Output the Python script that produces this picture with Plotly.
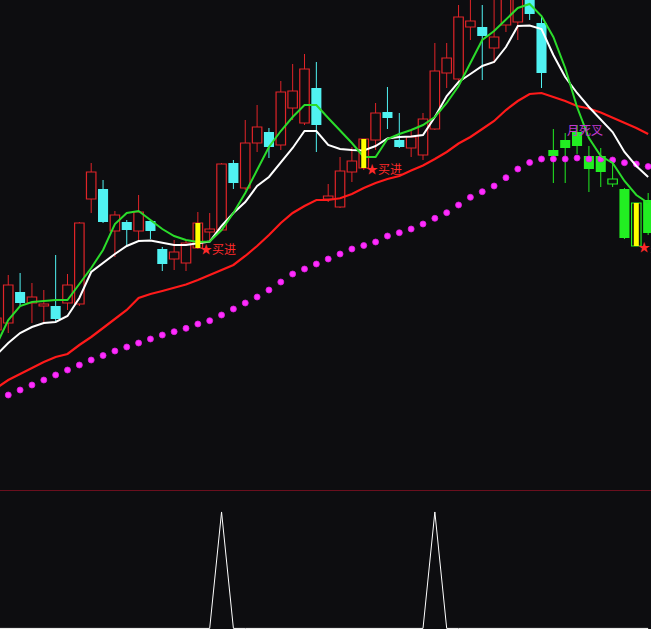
import plotly.graph_objects as go

# ---------------- data ----------------
bar_index = list(range(56))

open_ = [16.70, 16.77, 17.08, 16.97, 16.94, 16.94, 16.97, 16.96, 18.01, 18.11,
         17.69, 17.78, 17.69, 17.79, 17.51, 17.41, 17.37, 17.52, 17.68, 17.70,
         18.37, 18.12, 18.57, 18.68, 18.55, 18.92, 18.77, 19.12, 18.01, 17.93,
         18.28, 18.32, 18.60, 18.88, 18.60, 18.52, 18.45, 18.71, 19.27, 19.21,
         19.73, 19.73, 19.52, 19.75, 19.78, 20.10, 19.77, 18.50, 18.60, 18.68,
         18.44, 18.44, 18.16, 18.11, 17.54, 18.00]
high = [16.92, 17.25, 17.27, 17.17, 17.10, 17.45, 17.26, 17.78, 18.37, 18.20,
        17.89, 17.80, 18.05, 17.81, 17.53, 17.60, 17.60, 17.88, 17.87, 18.37,
        18.40, 18.80, 18.95, 18.72, 19.19, 19.36, 19.46, 19.38, 18.16, 18.43,
        18.53, 18.61, 18.97, 19.13, 18.87, 18.70, 18.87, 19.57, 19.57, 19.95,
        20.05, 19.95, 20.05, 20.20, 20.15, 20.20, 19.85, 18.71, 18.67, 18.75,
        18.54, 18.52, 18.38, 18.12, 17.97, 18.07]
low = [16.62, 16.67, 16.94, 16.77, 16.78, 16.79, 16.90, 16.94, 17.87, 17.77,
       17.43, 17.54, 17.60, 17.61, 17.29, 17.30, 17.29, 17.51, 17.60, 17.69,
       18.11, 18.10, 18.48, 18.42, 18.50, 18.80, 18.75, 18.48, 17.98, 17.92,
       18.18, 18.30, 18.50, 18.71, 18.52, 18.43, 18.40, 18.70, 19.12, 19.17,
       19.60, 19.20, 19.37, 19.68, 19.60, 19.80, 19.12, 18.17, 18.17, 18.46,
       18.08, 18.13, 18.13, 17.61, 17.54, 17.65]
close = [16.82, 17.15, 16.97, 17.03, 16.96, 16.81, 17.15, 17.77, 18.28, 17.78,
         17.85, 17.70, 17.88, 17.69, 17.36, 17.48, 17.57, 17.77, 17.71, 18.36,
         18.17, 18.57, 18.73, 18.53, 19.08, 19.09, 19.31, 18.75, 18.04, 18.29,
         18.39, 18.61, 18.87, 18.82, 18.53, 18.63, 18.81, 19.29, 19.42, 19.83,
         19.79, 19.64, 19.63, 20.08, 20.06, 19.86, 19.27, 18.44, 18.52, 18.54,
         18.31, 18.28, 18.21, 17.62, 17.97, 17.67]

ma5 = [16.55, 16.80, 16.94, 16.98, 16.99, 17.00, 17.00, 17.16, 17.32, 17.50,
       17.76, 17.87, 17.89, 17.80, 17.71, 17.64, 17.60, 17.58, 17.585, 17.70,
       17.87, 18.07, 18.30, 18.53, 18.69, 18.83, 18.95, 18.95, 18.82, 18.70,
       18.57, 18.43, 18.43, 18.61, 18.66, 18.70, 18.75, 18.83, 18.97, 19.14,
       19.37, 19.60, 19.69, 19.80, 19.92, 19.96, 19.84, 19.63, 19.32, 18.93,
       18.62, 18.44, 18.37, 18.19, 18.05, 17.97]
ma10 = [16.45, 16.57, 16.67, 16.73, 16.77, 16.78, 16.84, 17.02, 17.28, 17.37,
        17.46, 17.54, 17.59, 17.595, 17.57, 17.55, 17.55, 17.57, 17.585, 17.74,
        17.87, 17.98, 18.14, 18.23, 18.37, 18.52, 18.69, 18.69, 18.55, 18.51,
        18.50, 18.495, 18.54, 18.615, 18.63, 18.635, 18.65, 18.83, 19.04, 19.18,
        19.26, 19.34, 19.38, 19.53, 19.74, 19.745, 19.71, 19.45, 19.23, 19.07,
        18.93, 18.80, 18.68, 18.48, 18.34, 18.23]
ma30 = [16.12, 16.20, 16.26, 16.32, 16.38, 16.43, 16.46, 16.55, 16.63, 16.72,
        16.81, 16.90, 17.02, 17.06, 17.09, 17.12, 17.155, 17.20, 17.25, 17.30,
        17.35, 17.44, 17.54, 17.65, 17.77, 17.87, 17.94, 18.00, 18.00, 18.017,
        18.06, 18.12, 18.17, 18.21, 18.24, 18.295, 18.345, 18.41, 18.48, 18.565,
        18.63, 18.71, 18.79, 18.90, 18.99, 19.06, 19.07, 19.03, 18.99, 18.94,
        18.915, 18.875, 18.825, 18.775, 18.72, 18.66]
ma60 = [16.00, 16.05, 16.10, 16.15, 16.20, 16.25, 16.30, 16.35, 16.40, 16.445,
        16.49, 16.53, 16.57, 16.61, 16.65, 16.683, 16.717, 16.76, 16.793, 16.85,
        16.91, 16.97, 17.03, 17.10, 17.18, 17.26, 17.31, 17.36, 17.41, 17.46,
        17.51, 17.545, 17.58, 17.64, 17.673, 17.71, 17.76, 17.817, 17.873, 17.95,
        18.027, 18.083, 18.14, 18.223, 18.31, 18.375, 18.41, 18.41, 18.41, 18.42,
        18.41, 18.41, 18.40, 18.373, 18.36, 18.335]

signal = [0, 0, 0, 0, 0, 0, 0, 0, 0, 0,
          0, 0, 0, 0, 0, 0, 0, 0, 0, 1,
          0, 0, 0, 0, 0, 0, 0, 0, 0, 0,
          0, 0, 0, 0, 0, 0, 0, 1, 0, 0,
          0, 0, 0, 0, 0, 0, 0, 0, 0, 0,
          0, 0, 0, 0, 0, 0]

buy_bars = [17, 31, 54]
buy_text = "★买进"
weak_start = 47            # bars from here on are drawn in the green (weak) style
cross_bar = 48
cross_text = "月死叉"
cross_price = 18.71

# ---------------- styles ----------------
BG = "#0d0d10"
RED = "#e02428"
CYAN = "#50f2f2"
GREEN = "#22ee22"
YELLOW = "#ffff00"

fig = go.Figure()


def groups():
    g = {"red_up": [], "cyan_dn": [], "green_up": [], "green_dn": []}
    for i in bar_index:
        up = close[i] >= open_[i]
        if i < weak_start:
            g["red_up" if up else "cyan_dn"].append(i)
        else:
            g["green_up" if up else "green_dn"].append(i)
    return g


G = groups()
BODY_W = 0.85

for key, color, hollow in [("red_up", RED, True), ("cyan_dn", CYAN, False),
                           ("green_up", GREEN, True), ("green_dn", GREEN, False)]:
    ids = G[key]
    if not ids:
        continue
    base = [min(open_[i], close[i]) for i in ids]
    hgt = [max(abs(close[i] - open_[i]), 0.004) for i in ids]
    fig.add_trace(go.Bar(
        x=ids, y=hgt, base=base, width=BODY_W if not hollow else BODY_W - 0.05,
        marker=dict(color="rgba(0,0,0,0)" if hollow else color,
                    line=dict(color=color, width=1.2 if hollow else 0)),
        xaxis="x", yaxis="y", hoverinfo="skip", showlegend=False))

for key, color in [("red_up", RED), ("cyan_dn", CYAN), ("green_up", GREEN), ("green_dn", GREEN)]:
    xs, ys = [], []
    for i in G[key]:
        top = max(open_[i], close[i])
        bot = min(open_[i], close[i])
        xs += [i, i, None, i, i, None]
        ys += [high[i], top, None, bot, low[i], None]
    fig.add_trace(go.Scatter(x=xs, y=ys, mode="lines", line=dict(color=color, width=1),
                             xaxis="x", yaxis="y", hoverinfo="skip", showlegend=False))

# moving averages
fig.add_trace(go.Scatter(x=bar_index, y=ma30, mode="lines", line=dict(color="#ff1a1a", width=2.2),
                         hoverinfo="skip", showlegend=False))
fig.add_trace(go.Scatter(x=bar_index, y=ma60, mode="markers",
                         marker=dict(symbol="circle", size=6, color="#ff2cff",
                                     line=dict(color="#e020e0", width=0.8)),
                         hoverinfo="skip", showlegend=False))
fig.add_trace(go.Scatter(x=bar_index, y=ma10, mode="lines", line=dict(color="#ffffff", width=2),
                         hoverinfo="skip", showlegend=False))
fig.add_trace(go.Scatter(x=bar_index, y=ma5, mode="lines", line=dict(color="#2bdc2b", width=2),
                         hoverinfo="skip", showlegend=False))

# buy-signal yellow sticks (on top of lines)
xs, ys = [], []
for i in buy_bars:
    xs += [i, i, None]
    ys += [open_[i], close[i], None]
fig.add_trace(go.Scatter(x=xs, y=ys, mode="lines", line=dict(color=YELLOW, width=5),
                         hoverinfo="skip", showlegend=False))

# lower indicator panel
fig.add_trace(go.Scatter(x=bar_index, y=signal, mode="lines", line=dict(color="#ffffff", width=1),
                         xaxis="x2", yaxis="y2", hoverinfo="skip", showlegend=False))

annotations = []
for i in buy_bars:
    annotations.append(dict(x=i, y=open_[i], xref="x", yref="y", text=buy_text,
                            showarrow=False, xanchor="left", yanchor="middle",
                            font=dict(family="Noto Sans CJK SC", size=12, color="#ff2a2a")))
annotations.append(dict(x=cross_bar, y=cross_price, xref="x", yref="y", text=cross_text,
                        showarrow=False, xanchor="left", yanchor="middle",
                        font=dict(family="Noto Sans CJK SC", size=12, color="#c23ad2")))

W, H = 651, 629
main_bottom_px = 490
fig.update_layout(
    width=W, height=H, margin=dict(l=0, r=0, t=0, b=0),
    paper_bgcolor=BG, plot_bgcolor=BG, barmode="overlay", showlegend=False,
    xaxis=dict(range=[0.304, 55.24], visible=True, showgrid=False, zeroline=False,
               showticklabels=False, ticks="", showline=True, linecolor="#6a0f1e", linewidth=1,
               anchor="y"),
    yaxis=dict(range=[15.10, 20.00], domain=[1 - main_bottom_px / H, 1], showgrid=False,
               zeroline=False, showticklabels=False, ticks=""),
    xaxis2=dict(range=[0.304, 55.24], visible=False, matches="x", anchor="y2"),
    yaxis2=dict(range=[-0.005, 1.18], domain=[0, (H - main_bottom_px - 1) / H], visible=False),
    annotations=annotations,
    hovermode=False,
)

fig.write_html(
    "out.html",
    config={"displayModeBar": False},
    post_script="document.body.style.margin='0';document.body.style.overflow='hidden';"
                "document.body.style.background='" + BG + "';",
)
